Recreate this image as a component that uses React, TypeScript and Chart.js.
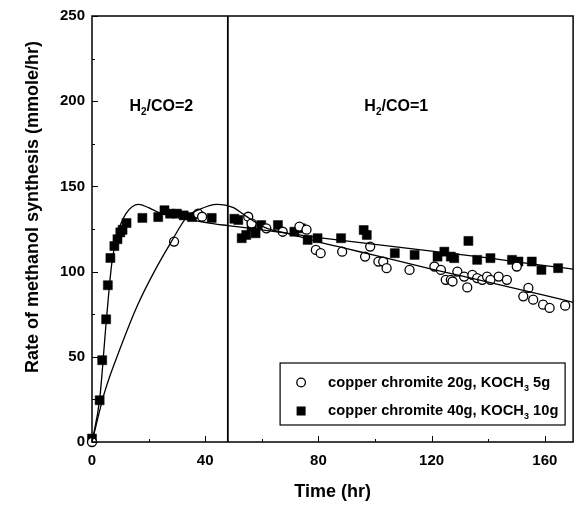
import React, { useEffect, useRef } from 'react';
import { Chart, registerables } from 'chart.js';

Chart.register(...registerables);

const FONT = '"Liberation Sans", Arial, Helvetica, sans-serif';

// ---- data ----
const openTime = [0, 29, 37.5, 38.9, 55.2, 56.4, 61.6, 67.4, 73.3, 75.8, 79.1, 80.8, 88.4, 96.5, 98.3, 101.2, 102.9, 104.1, 112.2, 121, 123.3, 125, 126.8, 127.4, 129.1, 131.5, 132.6, 134.4, 136.1, 137.9, 139.6, 140.8, 143.7, 146.6, 150.1, 152.4, 154.2, 155.9, 159.4, 161.7, 167.2];
const openRate = [0, 117.6, 134, 132.2, 132.2, 128.3, 125.4, 123.4, 126.4, 124.6, 112.7, 110.8, 111.7, 108.8, 114.7, 105.9, 105.9, 102, 101, 103, 101, 95.2, 95.2, 94.2, 100, 97.1, 90.7, 98.1, 96.2, 95.2, 97.1, 95.2, 97.1, 95.2, 103, 85.5, 90.4, 83.5, 80.6, 78.7, 80];

const filledTime = [0, 2.7, 3.6, 5, 5.6, 6.5, 7.9, 9, 10, 10.8, 12.2, 17.8, 23.4, 25.6, 27.6, 30, 32.4, 35.3, 42.3, 50.3, 51.7, 52.9, 54.5, 56.4, 57.8, 59.8, 65.7, 71.5, 73.8, 76.2, 79.7, 88, 96, 97.1, 107, 114, 122.1, 124.5, 126.8, 128, 133, 136.1, 140.8, 148.4, 150.7, 155.4, 158.8, 164.7];
const filledRate = [2, 24.5, 48, 72, 92, 108, 115, 119, 123, 124.5, 128.5, 131.5, 132, 136, 134, 134, 133, 132, 131.5, 131, 130.3, 119.6, 121.5, 126.4, 122.5, 127.3, 127.3, 123.4, 125.4, 118.6, 119.6, 119.6, 124.4, 121.5, 110.8, 109.8, 108.8, 111.7, 108.8, 107.9, 118, 106.9, 107.9, 106.9, 105.9, 105.9, 101, 102];

// fitted curves
const openFitTime = [0, 4.4, 10.2, 16, 22, 27.7, 33.5, 38, 44, 50, 54, 61, 70, 80, 90, 100, 120, 140, 160, 170];
const openFitRate = [0, 29, 56, 80, 100, 116.6, 132, 136.5, 139.5, 137.5, 133, 126, 122, 117.5, 113.5, 109.5, 101.5, 93.8, 86, 82];
const filledFitTime = [0, 2.7, 5, 7, 9, 12, 16.5, 20, 24, 30, 36, 42, 48, 60, 80, 100, 120, 140, 160, 170];
const filledFitRate = [0, 25, 70, 105, 122, 134, 139.5, 137.5, 134.5, 132, 130, 128.3, 127, 124.5, 120, 116, 112, 108, 103.5, 101.5];

const feedSwitchTime = 48;
const xRange = [0, 170];
const yRange = [0, 250];
const xTickLabels = [0, 40, 80, 120, 160];
const yTickLabels = [0, 50, 100, 150, 200, 250];
const xMinorStep = 20;
const yMinorStep = 25;

const seriesLabels = ['copper chromite 20g, KOCH\u2083 5g', 'copper chromite 40g, KOCH\u2083 10g'];
const xTitle = 'Time (hr)';
const yTitle = 'Rate of methanol synthesis (mmole/hr)';

type Part = [string, boolean];

function drawParts(ctx: CanvasRenderingContext2D, parts: Part[], x: number, y: number, size: number, center: boolean) {
  const subSize = Math.round(size * 0.62);
  const widths = parts.map(([t, sub]) => {
    ctx.font = `bold ${sub ? subSize : size}px ${FONT}`;
    return ctx.measureText(t).width;
  });
  let cx = center ? x - widths.reduce((a, b) => a + b, 0) / 2 : x;
  parts.forEach(([t, sub], i) => {
    ctx.font = `bold ${sub ? subSize : size}px ${FONT}`;
    ctx.fillText(t, cx, sub ? y + size * 0.38 : y);
    cx += widths[i];
  });
}

const overlay = {
  id: 'overlay',
  afterDatasetsDraw(chart: any) {
    const { ctx, chartArea: a, scales } = chart;
    const xs = scales.x;
    const ys = scales.y;
    ctx.save();
    ctx.strokeStyle = '#000';
    ctx.fillStyle = '#000';
    // frame
    ctx.lineWidth = 1.5;
    ctx.strokeRect(a.left, a.top, a.right - a.left, a.bottom - a.top);
    // inward ticks
    ctx.lineWidth = 1;
    ctx.beginPath();
    for (let v = xRange[0]; v <= xRange[1]; v += xMinorStep) {
      const px = Math.round(xs.getPixelForValue(v)) + 0.5;
      const len = xTickLabels.includes(v) ? 6 : 3;
      ctx.moveTo(px, a.bottom);
      ctx.lineTo(px, a.bottom - len);
    }
    for (let v = yRange[0]; v <= yRange[1]; v += yMinorStep) {
      const py = Math.round(ys.getPixelForValue(v)) + 0.5;
      const len = yTickLabels.includes(v) ? 6 : 3;
      ctx.moveTo(a.left, py);
      ctx.lineTo(a.left + len, py);
    }
    ctx.stroke();

    // regime annotations
    ctx.textBaseline = 'middle';
    ctx.textAlign = 'left';
    drawParts(ctx, [['H', false], ['2', true], ['/CO=2', false]], xs.getPixelForValue(24.5), ys.getPixelForValue(197), 16, true);
    drawParts(ctx, [['H', false], ['2', true], ['/CO=1', false]], xs.getPixelForValue(107.5), ys.getPixelForValue(197), 16, true);

    // legend box
    const lx = a.right - 293;
    const ly = a.bottom - 79;
    ctx.fillStyle = '#fff';
    ctx.fillRect(lx, ly, 285, 62);
    ctx.lineWidth = 1.2;
    ctx.strokeRect(lx, ly, 285, 62);
    ctx.fillStyle = '#000';
    // markers
    ctx.beginPath();
    ctx.arc(lx + 21, ly + 19.5, 4.3, 0, Math.PI * 2);
    ctx.fillStyle = '#fff';
    ctx.fill();
    ctx.lineWidth = 1.3;
    ctx.stroke();
    ctx.fillStyle = '#000';
    ctx.fillRect(lx + 16.5, ly + 43.5, 9, 9);
    drawParts(ctx, [['copper chromite 20g, KOCH', false], ['3', true], [' 5g', false]], lx + 48, ly + 19.5, 14.7, false);
    drawParts(ctx, [['copper chromite 40g, KOCH', false], ['3', true], [' 10g', false]], lx + 48, ly + 48, 14.7, false);

    // y axis title
    ctx.translate(33, 207);
    ctx.rotate(-Math.PI / 2);
    ctx.textAlign = 'center';
    ctx.font = `bold 18px ${FONT}`;
    ctx.fillText(yTitle, 0, 0);
    ctx.restore();
  },
};

export default function App() {
  const ref = useRef<HTMLCanvasElement>(null);
  useEffect(() => {
    const toPts = (xs: number[], ys: number[]) => xs.map((x, i) => ({ x, y: ys[i] }));
    const chart = new Chart(ref.current as HTMLCanvasElement, {
      type: 'scatter',
      data: {
        datasets: [
          {
            label: 'feed switch',
            data: [{ x: feedSwitchTime, y: yRange[0] }, { x: feedSwitchTime, y: yRange[1] }],
            showLine: true,
            borderColor: '#000',
            borderWidth: 1.8,
            pointRadius: 0,
          },
          {
            label: 'fit 1',
            data: toPts(openFitTime, openFitRate),
            showLine: true,
            cubicInterpolationMode: 'monotone',
            borderColor: '#000',
            borderWidth: 1.3,
            pointRadius: 0,
            clip: false,
          },
          {
            label: 'fit 2',
            data: toPts(filledFitTime, filledFitRate),
            showLine: true,
            cubicInterpolationMode: 'monotone',
            borderColor: '#000',
            borderWidth: 1.3,
            pointRadius: 0,
            clip: false,
          },
          {
            label: seriesLabels[0],
            data: toPts(openTime, openRate),
            pointStyle: 'circle',
            pointRadius: 4.5,
            backgroundColor: '#fff',
            borderColor: '#000',
            borderWidth: 1.3,
            clip: false,
          },
          {
            label: seriesLabels[1],
            data: toPts(filledTime, filledRate),
            pointStyle: 'rect',
            pointRadius: 6.4,
            backgroundColor: '#000',
            borderColor: '#000',
            borderWidth: 0.5,
            clip: false,
          },
        ] as any,
      },
      options: {
        animation: false,
        responsive: true,
        maintainAspectRatio: false,
        layout: { padding: { top: 14, right: 4, left: 0, bottom: 0 } },
        plugins: { legend: { display: false }, tooltip: { enabled: false } },
        scales: {
          x: {
            type: 'linear',
            min: xRange[0],
            max: xRange[1],
            border: { display: false },
            grid: { display: false, drawTicks: false },
            afterBuildTicks: (s: any) => {
              s.ticks = xTickLabels.map((v) => ({ value: v }));
            },
            ticks: {
              autoSkip: false,
              maxRotation: 0,
              padding: 10,
              color: '#000',
              font: { family: FONT, size: 15, weight: 'bold' },
              callback: (v: any) => String(v),
            },
            title: {
              display: true,
              text: xTitle,
              color: '#000',
              font: { family: FONT, size: 18, weight: 'bold' },
              padding: { top: 0, bottom: 2 },
            },
            afterFit: (s: any) => {
              s.height = 63;
            },
          },
          y: {
            type: 'linear',
            min: yRange[0],
            max: yRange[1],
            border: { display: false },
            grid: { display: false, drawTicks: false },
            afterBuildTicks: (s: any) => {
              s.ticks = yTickLabels.map((v) => ({ value: v }));
            },
            ticks: {
              autoSkip: false,
              padding: 7,
              color: '#000',
              font: { family: FONT, size: 15, weight: 'bold' },
              callback: (v: any) => String(v),
            },
            afterFit: (s: any) => {
              s.width = 92;
            },
          },
        },
      } as any,
      plugins: [overlay],
    });
    return () => chart.destroy();
  }, []);
  return (
    <div style={{ position: 'absolute', left: 0, top: 0, width: 580, height: 505, background: '#fff' }}>
      <canvas ref={ref} />
    </div>
  );
}
